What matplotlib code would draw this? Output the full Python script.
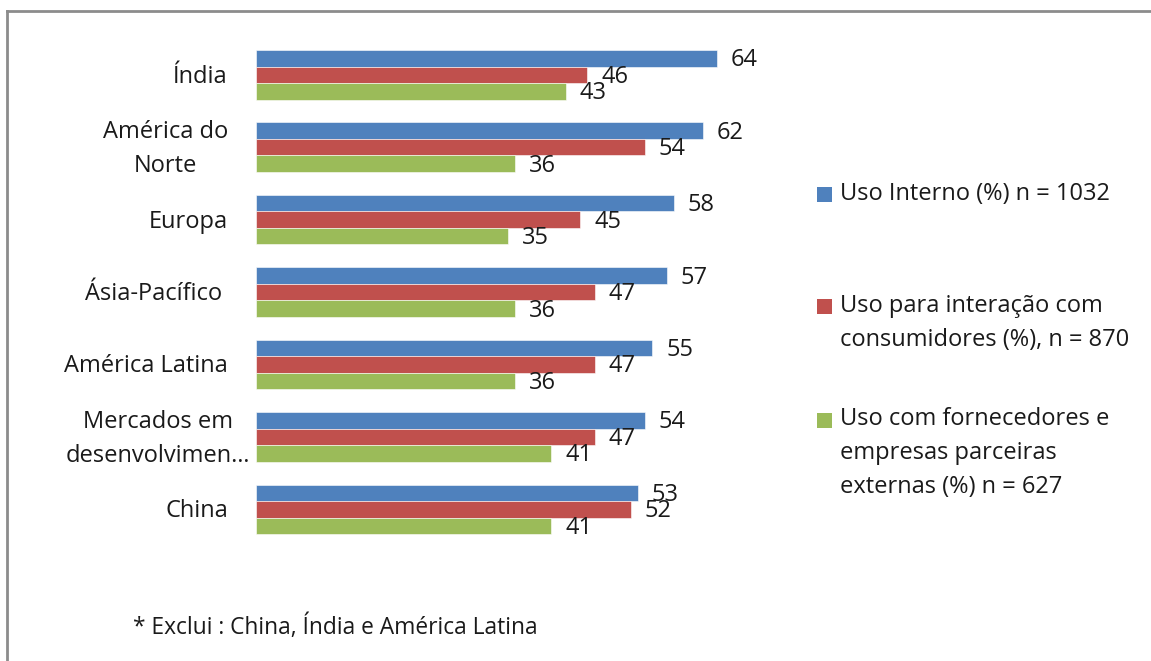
import matplotlib
matplotlib.use("Agg")
import matplotlib.pyplot as plt
from matplotlib.patches import Rectangle
from matplotlib.lines import Line2D

plt.rcParams['font.family'] = ['Open Sans', 'DejaVu Sans']

categories = ["Índia", "América do\nNorte", "Europa", "Ásia-Pacífico ",
              "América Latina", "Mercados em\ndesenvolvimen…", "China"]
uso_interno = [64, 62, 58, 57, 55, 54, 53]
uso_consumidores = [46, 54, 45, 47, 47, 47, 52]
uso_fornecedores = [43, 36, 35, 36, 36, 41, 41]
series_names = ["Uso Interno (%) n = 1032",
                "Uso para interação com\nconsumidores (%), n = 870",
                "Uso com fornecedores e\nempresas parceiras\nexternas (%) n = 627"]
footnote = "* Exclui : China, Índia e América Latina"

colors = ["#4F81BD", "#C0504D", "#9BBB59"]
W, H = 1151, 661
fig = plt.figure(figsize=(W / 100, H / 100), dpi=100)
ax = fig.add_axes([256 / W, 1 - 545.5 / H, 504.2 / W, 506.9 / H])

h = 0.228
fs = 17
txt_col = "#1a1a1a"
series = [uso_interno, uso_consumidores, uso_fornecedores]
for k, (vals, col) in enumerate(zip(series, colors)):
    ys = [i + (k - 1) * h for i in range(len(categories))]
    ax.barh(ys, vals, height=h, color=col, edgecolor="white", linewidth=0.4)
    for y, v in zip(ys, vals):
        ax.annotate(f"{v}", xy=(v, y), xytext=(14, -2),
                    textcoords="offset pixels", ha="left", va="center",
                    fontsize=fs, color=txt_col)

ax.set_xlim(0, 70)
ax.set_ylim(len(categories) - 0.5, -0.5)
ax.axis("off")

# category labels to the left of the bars
for i, lab in enumerate(categories):
    shift = 22 if lab.endswith("…") else 0
    ax.annotate(lab, xy=(0, i), xycoords=("axes fraction", "data"),
                xytext=(-28 + shift, -2), textcoords="offset pixels",
                ha="right", va="center", multialignment="center",
                fontsize=fs, color=txt_col, linespacing=1.55)

# legend drawn in figure pixel space
leg_y = [194, 323, 453]
for name, col, yc in zip(series_names, colors, leg_y):
    nlines = name.count("\n") + 1
    top_line = yc - (nlines - 1) * 33 / 2
    fig.patches.append(Rectangle((817 / W, 1 - (top_line + 7.5) / H),
                                 15 / W, 15 / H, transform=fig.transFigure,
                                 facecolor=col, edgecolor="none"))
    fig.text(840 / W, 1 - yc / H, name, ha="left", va="center",
             fontsize=fs, color=txt_col, linespacing=1.55)

fig.text(133 / W, 1 - 627 / H, footnote, ha="left", va="center",
         fontsize=16.4, color=txt_col)

# outer frame (left and top edges visible)
fig.lines.append(Line2D([7 / W, 7 / W], [0, 1 - 11 / H],
                        transform=fig.transFigure, color="#8c8c8c", lw=2))
fig.lines.append(Line2D([7 / W, 1], [1 - 11 / H, 1 - 11 / H],
                        transform=fig.transFigure, color="#8c8c8c", lw=2))

fig.savefig("out.png", dpi=100)
